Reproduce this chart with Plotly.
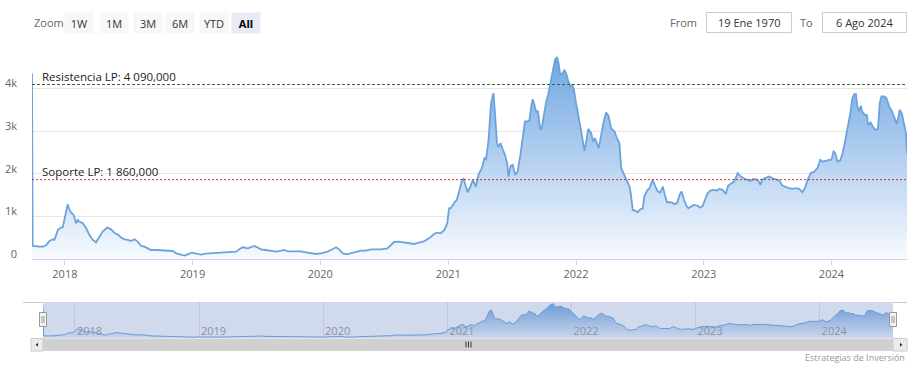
import plotly.graph_objects as go

# ---------------- data ----------------
dates = [
    "2017-09-29", "2017-10-01", "2017-10-21", "2017-10-31", "2017-11-09", "2017-11-18", "2017-11-28", "2017-12-02",
    "2017-12-12", "2017-12-20", "2017-12-26", "2018-01-02", "2018-01-09", "2018-01-14", "2018-01-19", "2018-01-26",
    "2018-02-02", "2018-02-07", "2018-02-11", "2018-02-21", "2018-03-03", "2018-03-12", "2018-03-22", "2018-03-31",
    "2018-04-10", "2018-04-19", "2018-05-02", "2018-05-13", "2018-05-24", "2018-06-03", "2018-06-11", "2018-06-20",
    "2018-06-30", "2018-07-09", "2018-07-19", "2018-07-28", "2018-08-07", "2018-08-16", "2018-08-26", "2018-09-04",
    "2018-09-19", "2018-10-03", "2018-10-22", "2018-11-05", "2018-11-15", "2018-11-29", "2018-12-09", "2018-12-18",
    "2018-12-30", "2019-01-11", "2019-01-25", "2019-02-08", "2019-02-23", "2019-03-14", "2019-04-02", "2019-04-21",
    "2019-05-05", "2019-05-15", "2019-05-24", "2019-06-08", "2019-06-16", "2019-06-26", "2019-07-05", "2019-07-15",
    "2019-07-29", "2019-08-13", "2019-08-27", "2019-09-11", "2019-09-20", "2019-09-30", "2019-10-19", "2019-11-07",
    "2019-11-21", "2019-12-06", "2019-12-20", "2020-01-03", "2020-01-22", "2020-02-05", "2020-02-15", "2020-02-24",
    "2020-03-05", "2020-03-17", "2020-03-29", "2020-04-12", "2020-04-26", "2020-05-10", "2020-05-25", "2020-06-08",
    "2020-06-22", "2020-07-11", "2020-07-21", "2020-07-30", "2020-08-13", "2020-08-28", "2020-09-11", "2020-09-25",
    "2020-10-09", "2020-10-23", "2020-11-07", "2020-11-21", "2020-11-30", "2020-12-10", "2020-12-21", "2020-12-29",
    "2021-01-03", "2021-01-09", "2021-01-17", "2021-01-25", "2021-02-01", "2021-02-08", "2021-02-13", "2021-02-20",
    "2021-02-25", "2021-03-05", "2021-03-12", "2021-03-21", "2021-03-28", "2021-04-07", "2021-04-14", "2021-04-19",
    "2021-04-26", "2021-05-03", "2021-05-10", "2021-05-15", "2021-05-20", "2021-05-24", "2021-05-30", "2021-06-06",
    "2021-06-12", "2021-06-18", "2021-06-22", "2021-06-28", "2021-07-04", "2021-07-11", "2021-07-18", "2021-07-26",
    "2021-08-02", "2021-08-08", "2021-08-16", "2021-08-21", "2021-08-26", "2021-08-30", "2021-09-04", "2021-09-09",
    "2021-09-14", "2021-09-21", "2021-09-25", "2021-10-01", "2021-10-07", "2021-10-14", "2021-10-22", "2021-10-29",
    "2021-11-02", "2021-11-08", "2021-11-12", "2021-11-17", "2021-11-24", "2021-11-29", "2021-12-05", "2021-12-10",
    "2021-12-16", "2021-12-21", "2021-12-26", "2022-01-01", "2022-01-08", "2022-01-15", "2022-01-20", "2022-01-25",
    "2022-01-31", "2022-02-05", "2022-02-13", "2022-02-19", "2022-02-24", "2022-03-02", "2022-03-07", "2022-03-14",
    "2022-03-21", "2022-03-28", "2022-04-04", "2022-04-11", "2022-04-21", "2022-04-28", "2022-05-05", "2022-05-10",
    "2022-05-17", "2022-05-24", "2022-06-03", "2022-06-07", "2022-06-12", "2022-06-19", "2022-06-26", "2022-07-04",
    "2022-07-11", "2022-07-15", "2022-07-23", "2022-07-30", "2022-08-08", "2022-08-16", "2022-08-23", "2022-08-30",
    "2022-09-06", "2022-09-13", "2022-09-18", "2022-09-25", "2022-10-02", "2022-10-09", "2022-10-17", "2022-10-24",
    "2022-10-30", "2022-11-05", "2022-11-12", "2022-11-18", "2022-11-24", "2022-12-03", "2022-12-13", "2022-12-22",
    "2022-12-29", "2023-01-04", "2023-01-12", "2023-01-20", "2023-01-29", "2023-02-08", "2023-02-14", "2023-02-24",
    "2023-03-05", "2023-03-12", "2023-03-20", "2023-03-29", "2023-04-08", "2023-04-15", "2023-04-25", "2023-05-04",
    "2023-05-14", "2023-05-22", "2023-05-30", "2023-06-06", "2023-06-12", "2023-06-18", "2023-06-28", "2023-07-07",
    "2023-07-17", "2023-07-26", "2023-08-05", "2023-08-14", "2023-08-24", "2023-09-02", "2023-09-12", "2023-09-21",
    "2023-10-01", "2023-10-10", "2023-10-17", "2023-10-25", "2023-11-03", "2023-11-13", "2023-11-22", "2023-11-30",
    "2023-12-07", "2023-12-16", "2023-12-26", "2024-01-01", "2024-01-07", "2024-01-12", "2024-01-18", "2024-01-26",
    "2024-02-02", "2024-02-08", "2024-02-16", "2024-02-24", "2024-03-01", "2024-03-06", "2024-03-11", "2024-03-15",
    "2024-03-20", "2024-03-25", "2024-03-29", "2024-04-05", "2024-04-11", "2024-04-15", "2024-04-22", "2024-04-29",
    "2024-05-06", "2024-05-13", "2024-05-18", "2024-05-23", "2024-05-31", "2024-06-06", "2024-06-14", "2024-06-20",
    "2024-06-28", "2024-07-06", "2024-07-11", "2024-07-14", "2024-07-20", "2024-07-27", "2024-08-01", "2024-08-04",
]
values = [
    4350, 305, 289, 289, 329, 423, 462, 446,
    681, 735, 743, 994, 1283, 1150, 1088, 1033,
    837, 915, 876, 837, 720, 563, 446, 391,
    509, 642, 735, 696, 603, 563, 501, 462,
    446, 423, 462, 407, 305, 289, 250, 211,
    211, 203, 196, 188, 133, 94, 78, 110,
    149, 125, 102, 125, 133, 133, 156, 164,
    172, 227, 274, 250, 274, 305, 274, 227,
    211, 196, 172, 196, 211, 180, 180, 180,
    156, 133, 117, 133, 172, 227, 274, 227,
    133, 110, 133, 172, 196, 196, 227, 227,
    227, 250, 329, 399, 407, 391, 368, 352,
    383, 415, 485, 587, 618, 603, 681, 837,
    1189, 1197, 1307, 1385, 1581, 1815, 1894, 1698,
    1565, 1698, 1854, 1698, 1972, 2128, 2363, 2339,
    2793, 3654, 3888, 3341, 2715, 2621, 2715, 2558,
    2441, 2245, 1932, 2183, 2206, 1972, 2050, 2441,
    2871, 3223, 3223, 3262, 3575, 3747, 3614, 3458,
    3458, 3028, 3067, 3419, 3654, 3888, 4240, 4553,
    4671, 4733, 4592, 4319, 4358, 4436, 4319, 4162,
    4045, 4084, 3967, 3654, 3380, 3028, 2793, 2535,
    2793, 3051, 2950, 2754, 2832, 2676, 2597, 2910,
    3223, 3434, 3356, 3067, 2989, 2832, 2715, 2128,
    2011, 1870, 1698, 1502, 1150, 1134, 1095, 1166,
    1189, 1463, 1604, 1659, 1854, 1698, 1580, 1557,
    1698, 1463, 1330, 1330, 1322, 1291, 1307, 1502,
    1580, 1400, 1252, 1189, 1228, 1267, 1252, 1205,
    1244, 1385, 1541, 1604, 1620, 1604, 1643, 1620,
    1526, 1721, 1776, 1815, 2011, 1948, 1893, 1870,
    1831, 1870, 1870, 1838, 1737, 1870, 1893, 1932,
    1893, 1870, 1838, 1721, 1682, 1659, 1643, 1659,
    1643, 1565, 1659, 1854, 2011, 2050, 2128, 2324,
    2284, 2308, 2324, 2324, 2519, 2480, 2284, 2308,
    2480, 2715, 3028, 3419, 3771, 3865, 3865, 3575,
    3458, 3591, 3458, 3380, 3380, 3145, 3200, 3090,
    3028, 3043, 3654, 3810, 3810, 3771, 3575, 3497,
    3341, 3168, 3341, 3497, 3419, 3184, 2950, 2480,
]

year_ticks = ["2018-01-01", "2019-01-01", "2020-01-01", "2021-01-01",
              "2022-01-01", "2023-01-01", "2024-01-01"]
year_labels = ["2018", "2019", "2020", "2021", "2022", "2023", "2024"]
y_ticks = [0, 1000, 2000, 3000, 4000, 5000]
y_labels = ["0", "1k", "2k", "3k", "4k", ""]

resistance_value = 4090
resistance_label = "Resistencia LP: 4 090,000"
support_value = 1860
support_label = "Soporte LP: 1 860,000"

zoom_buttons = ["1W", "1M", "3M", "6M", "YTD", "All"]
from_text = "19 Ene 1970"
to_text = "6 Ago 2024"
credits_text = "Estrategias de Inversión"

# ---------------- layout helpers (pixel -> paper) ----------------
W, H = 916, 369
ML, MR = 32, 9
PW = W - ML - MR
FONT = "Open Sans, Noto Sans, DejaVu Sans, sans-serif"


def px(x):
    return (x - ML) / PW


def py(y):
    return 1 - y / H


line_color = "#6ca3dc"
grad = [[0.0, "rgba(247,250,254,1)"], [1.0, "rgba(112,166,226,1)"]]

fig = go.Figure()

# main area series
fig.add_trace(go.Scatter(
    x=dates, y=values, mode="lines",
    line=dict(color=line_color, width=1.8),
    fill="tozeroy",
    fillgradient=dict(type="vertical", colorscale=grad, start=0, stop=max(values)),
    xaxis="x", yaxis="y", hoverinfo="skip", showlegend=False,
))

# navigator series
fig.add_trace(go.Scatter(
    x=dates, y=values, mode="lines",
    line=dict(color=line_color, width=1),
    fill="tozeroy",
    fillgradient=dict(type="vertical", colorscale=grad, start=0, stop=max(values)),
    xaxis="x2", yaxis="y2", hoverinfo="skip", showlegend=False,
))

shapes = []
annotations = []

# plot lines (resistance / support)
shapes.append(dict(type="line", xref="x domain", yref="y", x0=0, x1=1,
                   y0=resistance_value, y1=resistance_value,
                   line=dict(color="#2e6a2e", width=1, dash="3px,2px")))
shapes.append(dict(type="line", xref="x domain", yref="y", x0=0, x1=1,
                   y0=support_value, y1=support_value,
                   line=dict(color="#c8323c", width=1, dash="2px,2px")))
for val, txt in [(resistance_value, resistance_label), (support_value, support_label)]:
    annotations.append(dict(text=txt, xref="paper", yref="y", x=px(40.5), y=val,
                            xanchor="left", yanchor="bottom", showarrow=False,
                            font=dict(family=FONT, size=11.5, color="#222"),
                            borderpad=0, yshift=0))

# range selector
annotations.append(dict(text="Zoom", xref="paper", yref="paper", x=px(31.5), y=py(22.7),
                        xanchor="left", yanchor="middle", showarrow=False,
                        font=dict(family=FONT, size=11, color="#666")))
centers = [79, 113.5, 147.5, 180, 213.5, 245.5]
for lab, cx in zip(zoom_buttons, centers):
    sel = lab == "All"
    annotations.append(dict(
        text=("<b>%s</b>" % lab) if sel else lab,
        xref="paper", yref="paper", x=px(cx), y=py(22.7),
        xanchor="center", yanchor="middle", showarrow=False,
        width=28, height=20, borderpad=0,
        bgcolor="#e6ebf5" if sel else "#f7f7f7",
        font=dict(family=FONT, size=11, color="#000" if sel else "#333")))

# From / To inputs
annotations.append(dict(text="From", xref="paper", yref="paper", x=px(699), y=py(22.5),
                        xanchor="right", yanchor="middle", showarrow=False,
                        font=dict(family=FONT, size=11, color="#666")))
annotations.append(dict(text="To", xref="paper", yref="paper", x=px(815), y=py(22.5),
                        xanchor="right", yanchor="middle", showarrow=False,
                        font=dict(family=FONT, size=11, color="#666")))
for (x0, x1, txt) in [(706, 792, from_text), (822, 907, to_text)]:
    shapes.append(dict(type="rect", xref="paper", yref="paper",
                       x0=px(x0 + 0.5), x1=px(x1 - 0.5), y0=py(32.5), y1=py(12.5),
                       line=dict(color="#cccccc", width=1), fillcolor="white"))
    annotations.append(dict(text=txt, xref="paper", yref="paper", x=px((x0 + x1) / 2), y=py(22.5),
                            xanchor="center", yanchor="middle", showarrow=False,
                            font=dict(family=FONT, size=11, color="#333")))

# navigator outline, mask and handles
shapes.append(dict(type="line", xref="paper", yref="paper", x0=px(23), x1=px(43),
                   y0=py(302.5), y1=py(302.5), line=dict(color="#cccccc", width=1)))
shapes.append(dict(type="line", xref="paper", yref="paper", x0=px(893), x1=px(907),
                   y0=py(302.5), y1=py(302.5), line=dict(color="#cccccc", width=1)))
shapes.append(dict(type="rect", xref="paper", yref="paper", x0=px(43), x1=px(893),
                   y0=py(338), y1=py(302), line=dict(width=0),
                   fillcolor="rgba(102,133,194,0.3)"))
for hx in (43, 893):
    shapes.append(dict(type="rect", xref="paper", yref="paper", x0=px(hx - 3.5), x1=px(hx + 3.5),
                       y0=py(326.5), y1=py(312.5), line=dict(color="#999999", width=1),
                       fillcolor="#f2f2f2"))
    for lx in (hx - 1, hx + 1):
        shapes.append(dict(type="line", xref="paper", yref="paper", x0=px(lx), x1=px(lx),
                           y0=py(323), y1=py(316), line=dict(color="#999999", width=1)))

# scrollbar
shapes.append(dict(type="rect", xref="paper", yref="paper", x0=px(31), x1=px(907),
                   y0=py(351), y1=py(338.5), line=dict(width=0), fillcolor="#f2f2f2"))
shapes.append(dict(type="rect", xref="paper", yref="paper", x0=px(43), x1=px(893),
                   y0=py(351), y1=py(338.5), line=dict(width=0), fillcolor="#d0d0d0"))
for bx0, bx1 in [(31, 43), (893, 907)]:
    shapes.append(dict(type="rect", xref="paper", yref="paper", x0=px(bx0), x1=px(bx1),
                       y0=py(351), y1=py(338.5), line=dict(color="#cccccc", width=1),
                       fillcolor="#ebebeb"))
# arrows
shapes.append(dict(type="path", xref="paper", yref="paper",
                   path="M %f %f L %f %f L %f %f Z" % (px(35.5), py(344.7), px(38), py(342.7), px(38), py(346.7)),
                   fillcolor="#333333", line=dict(width=0)))
shapes.append(dict(type="path", xref="paper", yref="paper",
                   path="M %f %f L %f %f L %f %f Z" % (px(902.5), py(344.7), px(900), py(342.7), px(900), py(346.7)),
                   fillcolor="#333333", line=dict(width=0)))
for gx in (466, 468.5, 471):
    shapes.append(dict(type="line", xref="paper", yref="paper", x0=px(gx), x1=px(gx),
                       y0=py(347.5), y1=py(341.5), line=dict(color="#333333", width=1)))

# credits
annotations.append(dict(text=credits_text, xref="paper", yref="paper", x=px(907), y=py(357),
                        xanchor="right", yanchor="middle", showarrow=False,
                        font=dict(family=FONT, size=9, color="#999999")))

fig.update_layout(
    width=W, height=H,
    margin=dict(l=ML, r=MR, t=0, b=0, pad=0, autoexpand=False),
    paper_bgcolor="white", plot_bgcolor="white",
    font=dict(family=FONT, size=11, color="#666"),
    showlegend=False,
    xaxis=dict(
        domain=[0, 1], anchor="y", type="date",
        range=[dates[0], dates[-1]],
        tickvals=year_ticks, ticktext=year_labels,
        showgrid=False, zeroline=False,
        showline=True, linecolor="#ccd6eb", linewidth=1,
        ticks="outside", ticklen=5, tickcolor="#ccd6eb",
        tickfont=dict(family=FONT, size=11, color="#666"),
        fixedrange=True,
    ),
    yaxis=dict(
        domain=[py(259), py(45.7)], anchor="x",
        range=[0, 5000], tickvals=y_ticks, ticktext=y_labels,
        showgrid=True, gridcolor="#e6e6e6", gridwidth=1,
        zeroline=False, showline=False, ticks="",
        ticklabelshift=-5, ticklabelstandoff=14,
        tickfont=dict(family=FONT, size=11, color="#666"),
        fixedrange=True,
    ),
    xaxis2=dict(
        domain=[px(43), px(893)], anchor="free", position=py(343.5), type="date",
        range=[dates[0], dates[-1]],
        tickvals=year_ticks, ticktext=year_labels,
        showgrid=True, gridcolor="#e6e6e6", gridwidth=1,
        zeroline=False, showline=False, ticks="",
        ticklabelposition="inside right", ticklabelshift=2,
        tickfont=dict(family=FONT, size=11, color="#999999"),
        fixedrange=True,
    ),
    yaxis2=dict(
        domain=[py(338), py(302)], anchor="x2",
        range=[0, 5000], showgrid=False, zeroline=False,
        showticklabels=False, showline=False, ticks="",
        fixedrange=True,
    ),
    shapes=shapes,
    annotations=annotations,
)

fig.write_html("out.html", include_plotlyjs=True, config={"displayModeBar": False})
